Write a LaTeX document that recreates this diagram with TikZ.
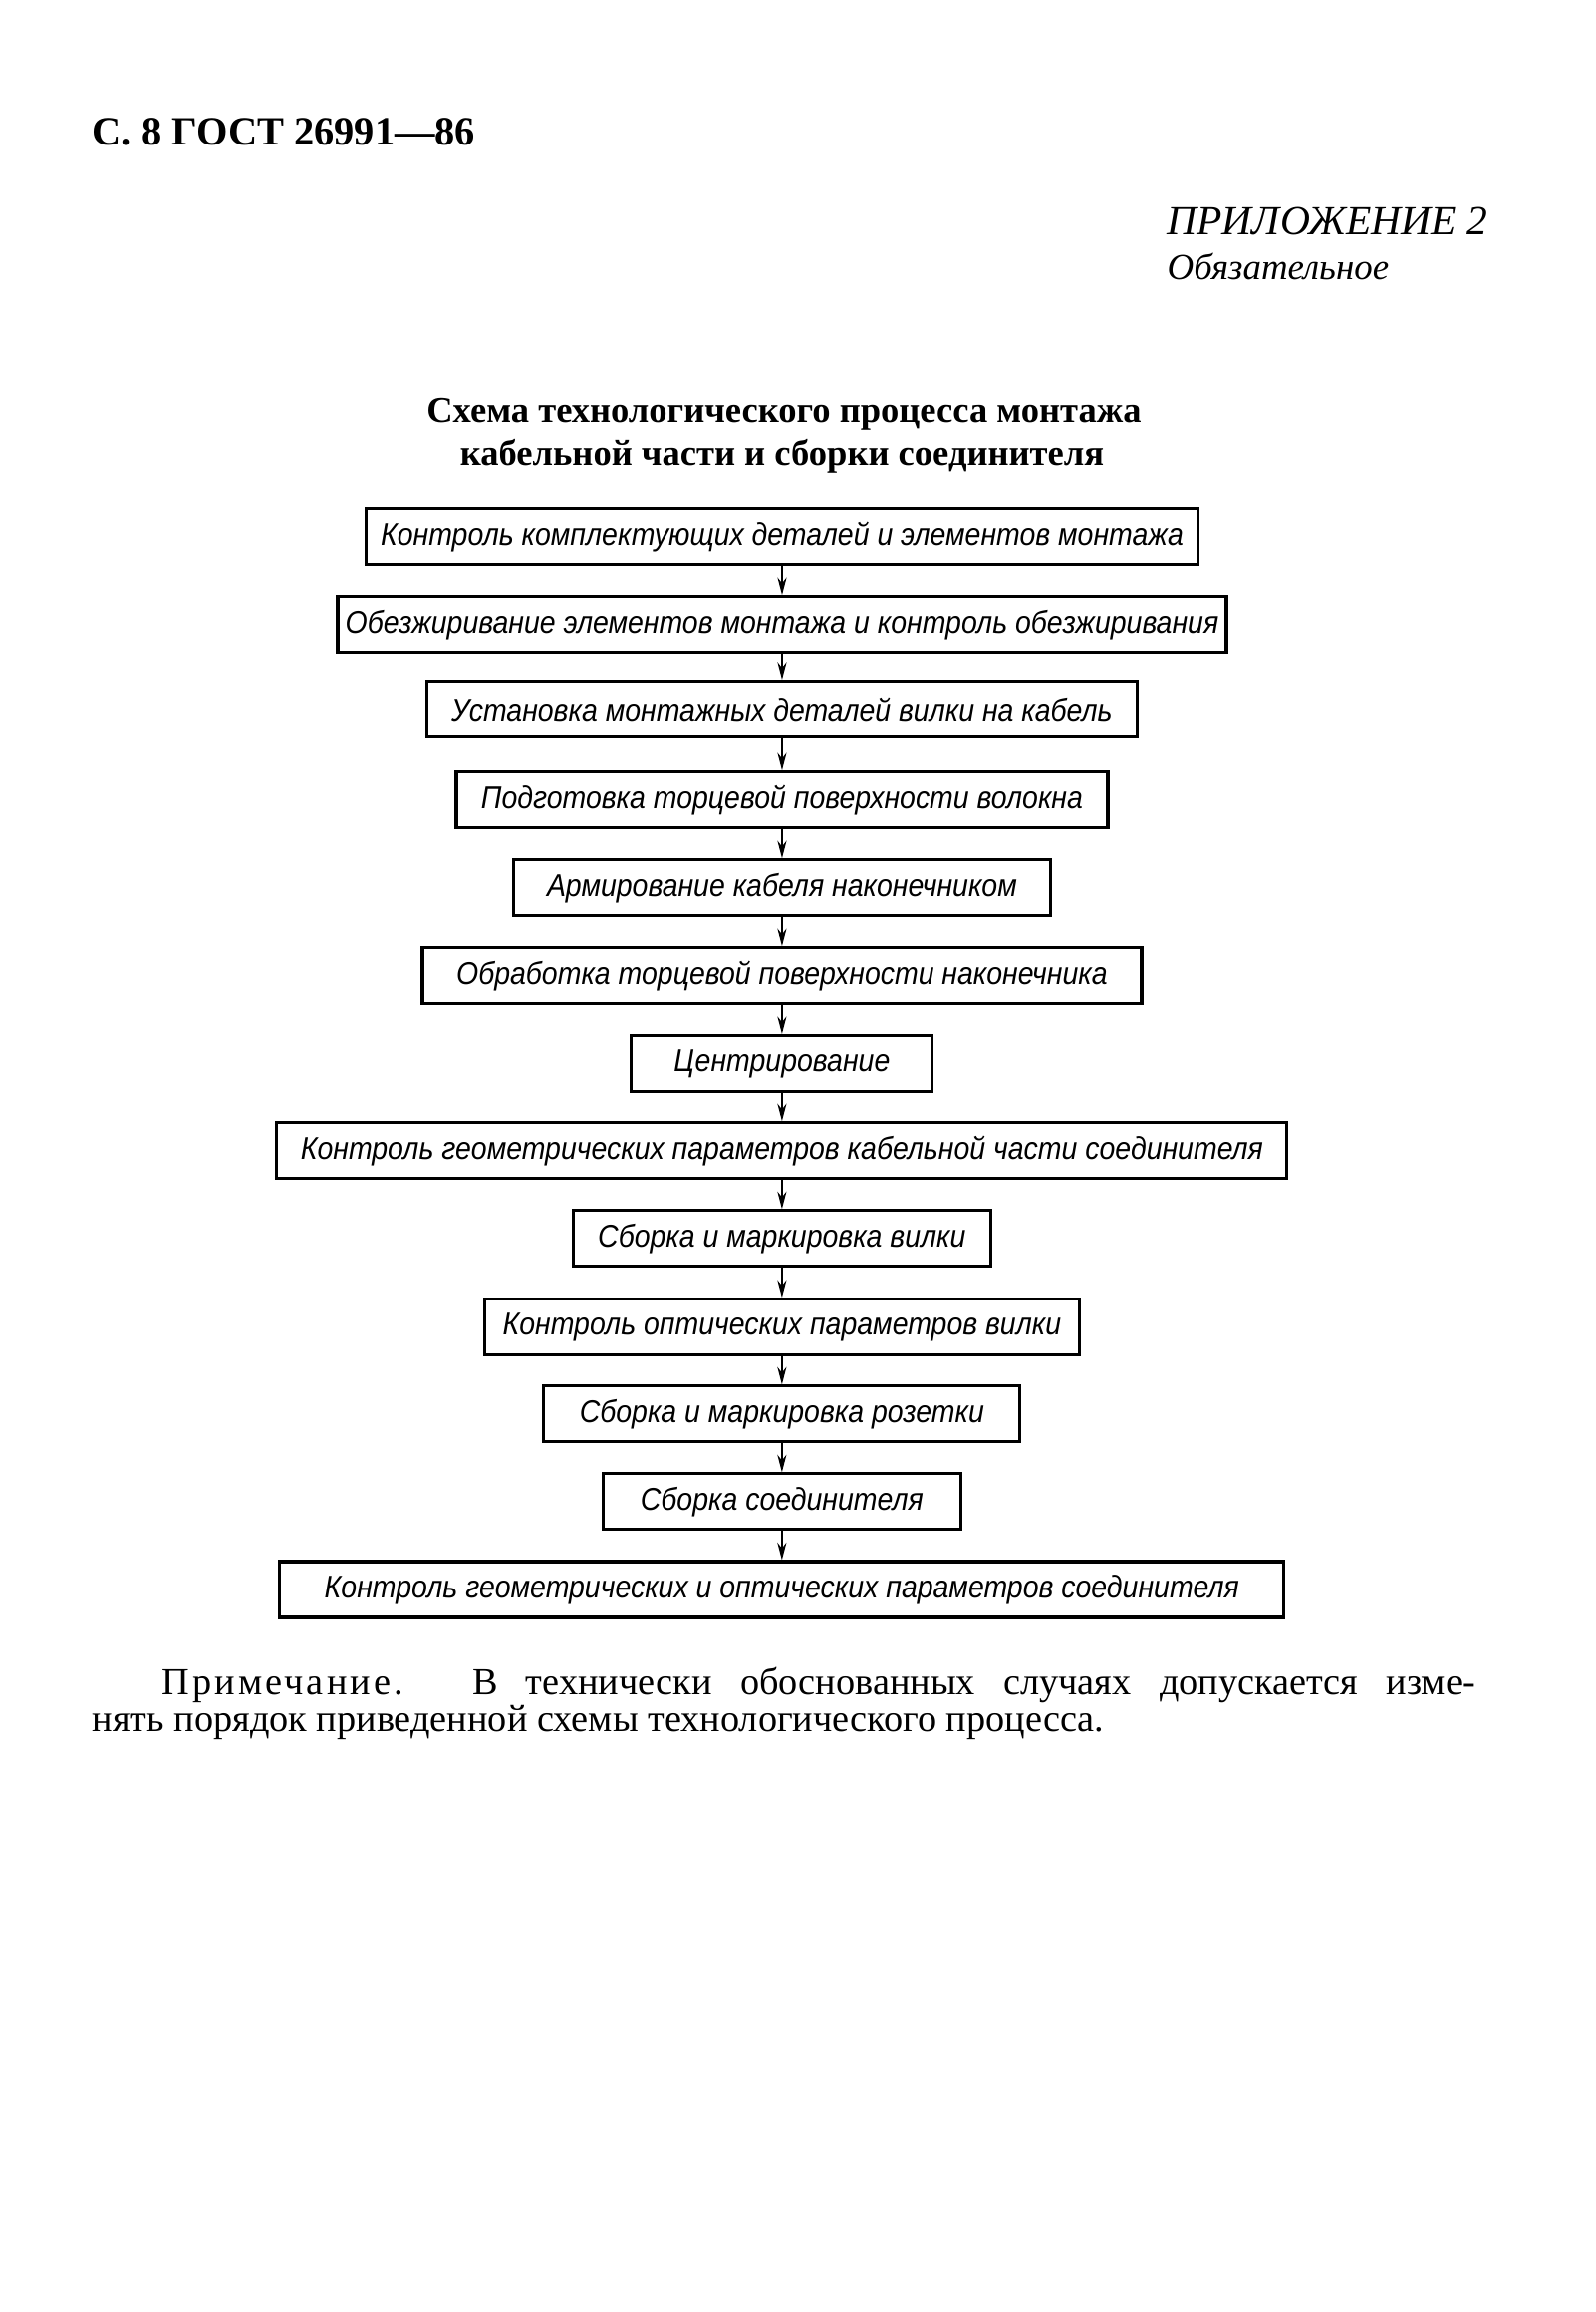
\documentclass[tikz,border=0pt]{standalone}
\usepackage{fontspec}
\setmainfont{Liberation Serif}
\newfontfamily\draftfont[FakeStretch=0.9]{Liberation Sans}
\usepackage{tikz-qtree}
\usetikzlibrary{arrows.meta}
\tikzset{stepbox/.style={draw, line width=0.9pt, inner ysep=0pt, inner xsep=2pt, minimum height=0.56cm,
    font=\draftfont\itshape\fontsize{9}{10}\selectfont},
  pagetext/.style={inner sep=0pt, anchor=base west}}

\begin{document}
\begin{tikzpicture}[level distance=0.88cm,
        edge from parent/.style={draw, line width=0.5pt, -{Stealth[length=5pt,width=2.6pt]}},
        edge from parent path={(\tikzparentnode) -- (\tikzchildnode)}]
    \fill[white] (0,0) rectangle (16.02,-23.20);
    \useasboundingbox (0,0) rectangle (16.02,-23.20);
    % page head
    \node[pagetext, font=\bfseries\fontsize{11.5}{13}\selectfont] (header) at (0.92,-1.45) {С. 8 ГОСТ 26991---86};
    \node[pagetext, font=\itshape\fontsize{11.8}{13}\selectfont] (prilozh) at (11.71,-2.35) {ПРИЛОЖЕНИЕ 2};
    \node[pagetext, font=\itshape\fontsize{10.5}{12}\selectfont] (obyaz) at (11.71,-2.80) {Обязательное};
    \node[inner sep=0pt, anchor=base, font=\bfseries\fontsize{10.4}{12}\selectfont] (title1) at (7.87,-4.23) {Схема технологического процесса монтажа};
    \node[inner sep=0pt, anchor=base, font=\bfseries\fontsize{10.4}{12}\selectfont] (title2) at (7.85,-4.67) {кабельной части и сборки соединителя};
    \begin{scope}[shift={(7.85,-5.47)}]
    \Tree
    [.\node[stepbox, minimum width=8.35cm] (komplekt) {Контроль комплектующих деталей и элементов монтажа};
      [.\node[stepbox, minimum width=8.92cm] (obezzhir) {Обезжиривание элементов монтажа и контроль обезжиривания};
        [.\node[stepbox, minimum width=7.13cm] (ustanovka) {Установка монтажных деталей вилки на кабель};
          [.\node[stepbox, minimum width=6.54cm] (podgotovka) {Подготовка торцевой поверхности волокна};
            [.\node[stepbox, minimum width=5.39cm] (armirovanie) {Армирование кабеля наконечником};
              [.\node[stepbox, minimum width=7.22cm] (obrabotka) {Обработка торцевой поверхности наконечника};
                [.\node[stepbox, minimum width=3.02cm] (centr) {Центрирование};
                  [.\node[stepbox, minimum width=10.14cm] (geomkab) {Контроль геометрических параметров кабельной части соединителя};
                    [.\node[stepbox, minimum width=4.19cm] (vilka) {Сборка и маркировка вилки};
                      [.\node[stepbox, minimum width=5.97cm] (optvilka) {Контроль оптических параметров вилки};
                        [.\node[stepbox, minimum width=4.78cm] (rozetka) {Сборка и маркировка розетки};
                          [.\node[stepbox, minimum width=3.59cm] (soedin) {Сборка соединителя};
                            [.\node[stepbox, minimum width=10.08cm] (geomopt) {Контроль геометрических и оптических параметров соединителя}; ]
                          ]
                        ]
                      ]
                    ]
                  ]
                ]
              ]
            ]
          ]
        ]
      ]
    ]
    \end{scope}
    % note
    \node[pagetext, font=\fontsize{10.9}{12}\selectfont] (note1) at (1.62,-17.00)
        {\makebox[13.18cm][s]{{\addfontfeature{LetterSpace=8}Примечание.} В технически обоснованных случаях допускается изме-}};
    \node[pagetext, font=\fontsize{10.9}{12}\selectfont] (note2) at (0.92,-17.37)
        {нять порядок приведенной схемы технологического процесса.};
\end{tikzpicture}
\end{document}
